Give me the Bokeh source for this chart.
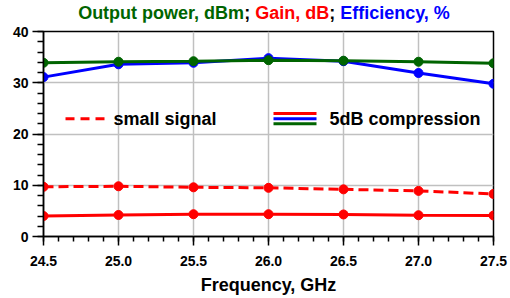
from bokeh.plotting import figure
from bokeh.models import Label, FixedTicker, PrintfTickFormatter, Div
from bokeh.layouts import column
from bokeh.embed import file_html
from bokeh.resources import INLINE

# ---- data ----
freq = [24.5, 25.0, 25.5, 26.0, 26.5, 27.0, 27.5]
pout_dbm = [33.9, 34.1, 34.2, 34.4, 34.3, 34.1, 33.8]
efficiency = [31.1, 33.6, 33.9, 34.8, 34.2, 31.9, 29.8]
gain_small_signal = [9.7, 9.8, 9.6, 9.5, 9.2, 8.9, 8.3]
gain_compression = [4.0, 4.2, 4.35, 4.35, 4.3, 4.15, 4.1]
x_ticks = [24.5, 25.0, 25.5, 26.0, 26.5, 27.0, 27.5]
y_ticks = [0, 10, 20, 30, 40]
title_parts = ["Output power, dBm", "; ", "Gain, dB", "; ", "Efficiency, %"]
legend_labels = ["small signal", "5dB compression"]

GREEN = "#006400"
RED = "#ff0000"
BLUE = "#0000ff"
GRID = "#c0c0c0"
FONT = "Liberation Sans"

X0, X1 = x_ticks[0], x_ticks[-1]
Y0, Y1 = y_ticks[0], y_ticks[-1]

# ---- multi-coloured title ----
title_colors = [GREEN, "black", RED, "black", BLUE]
title_html = "".join(f'<span style="color:{c}">{t}</span>' for t, c in zip(title_parts, title_colors))
title = Div(text=title_html, width=510, height=22, margin=0,
            styles={"font-family": FONT, "font-weight": "bold", "font-size": "18px",
                    "text-align": "center", "line-height": "26px", "padding-left": "18px",
                    "box-sizing": "border-box", "white-space": "nowrap", "overflow": "visible"})

p = figure(width=510, height=276, x_range=(X0, X1), y_range=(Y0, Y1),
           output_backend="svg", toolbar_location=None,
           min_border_left=43, min_border_right=17, min_border_top=9, min_border_bottom=62)
p.background_fill_color = "white"
p.border_fill_color = "white"
p.outline_line_color = "black"
p.outline_line_width = 1.5
p.outline_line_alpha = 1

# axes
x_minor = [round(X0 + 0.1 * i, 2) for i in range(31)]
y_minor = list(range(0, 41, 2))
p.xaxis.ticker = FixedTicker(ticks=x_ticks, minor_ticks=x_minor)
p.xaxis.formatter = PrintfTickFormatter(format="%.1f")
p.yaxis.ticker = FixedTicker(ticks=y_ticks, minor_ticks=y_minor)
p.xaxis.axis_label = "Frequency, GHz"
for ax in (p.xaxis, p.yaxis):
    ax.axis_line_color = "black"
    ax.axis_line_width = 1.5
    ax.major_tick_line_color = "black"
    ax.minor_tick_line_color = "black"
    ax.major_tick_line_width = 1.5
    ax.minor_tick_line_width = 1.5
    ax.major_tick_in = 0
    ax.minor_tick_in = 0
    ax.major_label_text_font = FONT
    ax.major_label_text_font_style = "bold"
    ax.major_label_text_font_size = "14px"
    ax.major_label_text_color = "black"
    ax.axis_label_text_font = FONT
    ax.axis_label_text_font_style = "bold"
    ax.axis_label_text_font_size = "18px"
    ax.axis_label_text_color = "black"
p.xaxis.major_tick_out = 9
p.xaxis.minor_tick_out = 5
p.xaxis.major_label_standoff = 10
p.xaxis.axis_label_standoff = 6
p.yaxis.major_tick_out = 11
p.yaxis.minor_tick_out = 6
p.yaxis.major_label_standoff = 4

# grid
p.xgrid.ticker = FixedTicker(ticks=x_ticks[1:-1])
p.ygrid.ticker = FixedTicker(ticks=y_ticks[1:-1])
p.grid.grid_line_color = GRID
p.grid.grid_line_width = 1.5
p.grid.grid_line_alpha = 1

# data
LW = 3
MS = 9
p.line(freq, gain_small_signal, color=RED, line_width=LW, line_dash="10 5")
p.scatter(freq, gain_small_signal, color=RED, size=MS)
p.line(freq, gain_compression, color=RED, line_width=LW)
p.scatter(freq, gain_compression, color=RED, size=MS)
p.line(freq, efficiency, color=BLUE, line_width=LW)
p.scatter(freq, efficiency, color=BLUE, size=MS)
p.line(freq, pout_dbm, color=GREEN, line_width=LW)
p.scatter(freq, pout_dbm, color=GREEN, size=MS)

# legend (manual)
leg_y = 23
p.line([24.6467, 24.9067], [leg_y, leg_y], color=RED, line_width=LW, line_dash="9 6")
p.add_layout(Label(x=24.9667, y=leg_y, text=legend_labels[0], text_font=FONT, text_font_style="bold",
                   text_font_size="18px", text_baseline="middle", text_color="black"))
for dy, c in ((1, RED), (0, BLUE), (-1, GREEN)):
    p.line([26.0333, 26.32], [leg_y + dy, leg_y + dy], color=c, line_width=LW)
p.add_layout(Label(x=26.4067, y=leg_y, text=legend_labels[1], text_font=FONT, text_font_style="bold",
                   text_font_size="18px", text_baseline="middle", text_color="black"))

layout = column(title, p, spacing=0)
open("out.html", "w").write(file_html(layout, INLINE))
